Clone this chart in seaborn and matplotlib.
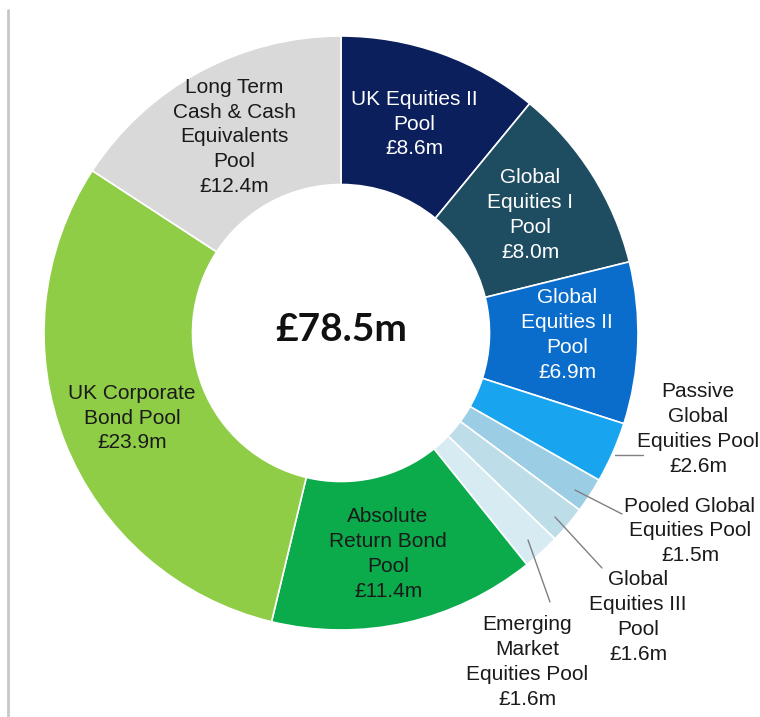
import numpy as np
import matplotlib
matplotlib.use("Agg")
import matplotlib.pyplot as plt
import seaborn as sns
from matplotlib.lines import Line2D

# ----- Data -----
pools = ["UK Equities II Pool", "Global Equities I Pool", "Global Equities II Pool",
         "Passive Global Equities Pool", "Pooled Global Equities Pool",
         "Global Equities III Pool", "Emerging Market Equities Pool",
         "Absolute Return Bond Pool", "UK Corporate Bond Pool",
         "Long Term Cash & Cash Equivalents Pool"]
values = [8.6, 8.0, 6.9, 2.6, 1.5, 1.6, 1.6, 11.4, 23.9, 12.4]
label_text = ["UK Equities II\nPool", "Global\nEquities I\nPool", "Global\nEquities II\nPool",
              "Passive\nGlobal\nEquities Pool", "Pooled Global\nEquities Pool",
              "Global\nEquities III\nPool", "Emerging\nMarket\nEquities Pool",
              "Absolute\nReturn Bond\nPool", "UK Corporate\nBond Pool",
              "Long Term\nCash & Cash\nEquivalents\nPool"]
total_label = "£78.5m"

colors = ["#0b1f5c", "#1e4d62", "#0a6dcb", "#18a4ef", "#9bcde4",
          "#bddde9", "#d6ebf2", "#0bab4b", "#8fcd47", "#d9d9d9"]
text_colors = ["white", "white", "white", "#1a1a1a", "#1a1a1a",
               "#1a1a1a", "#1a1a1a", "#1a1a1a", "#1a1a1a", "#1a1a1a"]

# ----- Layout (pixels in the 760x717 image) -----
W, H = 760, 717
CX, CY, R = 341, 333, 297

def px(x, y):
    return (x - CX) / R, (CY - y) / R

label_pos = [(414, 124), (530, 215), (567, 335), (698, 429), (690, 531),
             (638, 617), (527, 662), (388, 554), (132, 418), (234, 137)]
# leader lines for outside labels: (from, to)
leaders = {3: ((615, 455), (643, 455)),
           4: ((575, 490), (622, 514)),
           5: ((555, 517), (602, 568)),
           6: ((528, 540), (550, 602))}

sns.set_theme(style="white")
plt.rcParams["font.family"] = ["Liberation Sans", "DejaVu Sans"]

fig = plt.figure(figsize=(W / 100, H / 100), dpi=100)
ax = fig.add_axes([0, 0, 1, 1])

ax.pie(values, colors=colors, startangle=90, counterclock=False, radius=1,
       wedgeprops=dict(width=0.5, edgecolor="white", linewidth=1.2))

ax.set_xlim(-CX / R, (W - CX) / R)
ax.set_ylim(-(H - CY) / R, CY / R)
ax.set_aspect("equal")
ax.axis("off")

for i, (name, v) in enumerate(zip(label_text, values)):
    x, y = px(*label_pos[i])
    ax.text(x, y, f"{name}\n£{v:.1f}m", ha="center", va="center",
            fontsize=15, color=text_colors[i], linespacing=1.38)

for i, (a, b) in leaders.items():
    (x0, y0), (x1, y1) = px(*a), px(*b)
    ax.plot([x0, x1], [y0, y1], color="#808080", lw=1)

cx, cy = px(341, 329)
ax.text(cx, cy, total_label, ha="center", va="center", fontsize=28,
        fontweight="bold", family=["Lato", "DejaVu Sans"], color="#111111")

# thin grey frame edge on the left of the original slide
fig.add_artist(Line2D([8 / W, 8 / W], [0, 1 - 10 / H], color="#c8c8c8", lw=2))

fig.savefig("out.png", dpi=100)
